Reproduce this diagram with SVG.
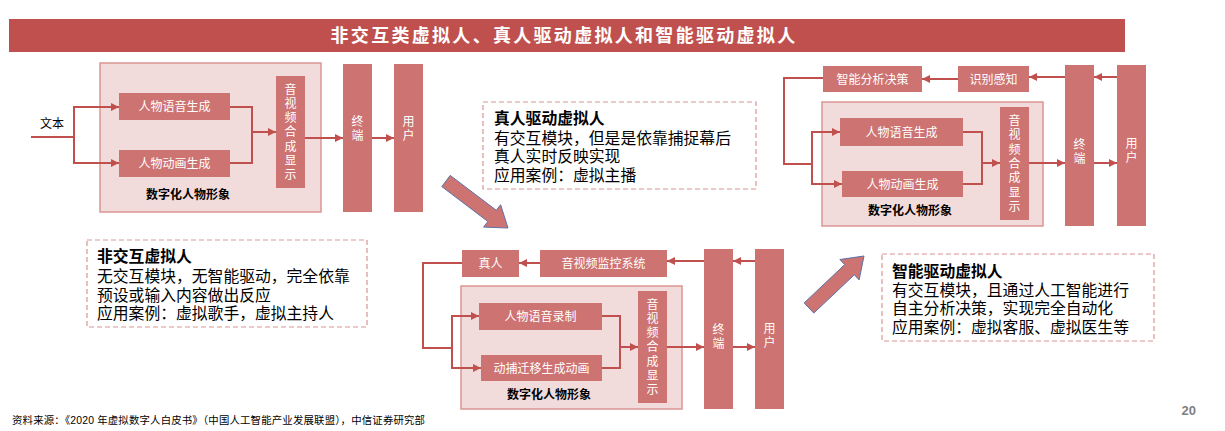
<svg xmlns="http://www.w3.org/2000/svg" width="1225" height="431" viewBox="0 0 1225 431">
<style>
text{font-family:"Liberation Sans","Noto Sans CJK SC",sans-serif}
.box{fill:#CD7371}
.cont{fill:#F2DCDB;stroke:#DA9694;stroke-width:1.5}
.wtc{fill:#fff;font-size:12px;text-anchor:middle}
.lbl{fill:#000;font-size:12px;font-weight:bold;text-anchor:middle}
.conn{stroke:#C0504D;stroke-width:2;fill:none}
.arr{stroke:#C0504D;stroke-width:2;fill:none;marker-end:url(#ah)}
.note{fill:#fff;stroke:#D99694;stroke-width:1.2;stroke-dasharray:5,3}
.nt{fill:#000;font-size:15.8px}
.ntb{fill:#000;font-size:15.8px;font-weight:bold}
.big{fill:#CD7371;stroke:#5B73A8;stroke-width:1}
</style>
<defs>
<marker id="ah" viewBox="0 0 10 10" refX="10" refY="5" markerWidth="9" markerHeight="8" markerUnits="userSpaceOnUse" orient="auto"><path d="M0,0 L10,5 L0,10 z" fill="#C0504D"/></marker>
</defs>
<rect width="1225" height="431" fill="#fff"/>
<g id="header">
<rect x="9" y="19" width="1116" height="33" fill="#C0504D"/>
<text x="564" y="42" fill="#fff" font-size="18" font-weight="bold" text-anchor="middle" letter-spacing="2.3">非交互类虚拟人、真人驱动虚拟人和智能驱动虚拟人</text>
</g>
<!-- Left diagram -->
<g id="left-container"><rect class="cont" x="100" y="63" width="221" height="149"/><text class="lbl" x="188" y="199">数字化人物形象</text></g>
<g id="left-voice"><rect class="box" x="119" y="93" width="111" height="27"/><text class="wtc" x="174.5" y="111">人物语音生成</text></g>
<g id="left-anim"><rect class="box" x="119" y="150" width="111" height="27"/><text class="wtc" x="174.5" y="168">人物动画生成</text></g>
<g id="left-synth"><rect class="box" x="276" y="76" width="29" height="112"/>
<text class="wtc" x="290.5"><tspan x="290.5" y="93.5">音</tspan><tspan x="290.5" y="107.8">视</tspan><tspan x="290.5" y="122.1">频</tspan><tspan x="290.5" y="136.4">合</tspan><tspan x="290.5" y="150.7">成</tspan><tspan x="290.5" y="165">显</tspan><tspan x="290.5" y="179.3">示</tspan></text></g>
<g id="left-terminal"><rect class="box" x="343" y="64" width="29" height="148"/><text class="wtc"><tspan x="357.5" y="126">终</tspan><tspan x="357.5" y="140">端</tspan></text></g>
<g id="left-user"><rect class="box" x="394" y="64" width="29" height="148"/><text class="wtc"><tspan x="408.5" y="126">用</tspan><tspan x="408.5" y="140">户</tspan></text></g>
<g id="left-input"><text x="52" y="128" font-size="12" text-anchor="middle" fill="#000">文本</text></g>
<!-- Middle diagram -->
<g id="mid-container"><rect class="cont" x="461" y="286" width="221" height="123"/><text class="lbl" x="549" y="399">数字化人物形象</text></g>
<g id="mid-real"><rect class="box" x="462" y="250" width="57" height="27"/><text class="wtc" x="490.5" y="268">真人</text></g>
<g id="mid-monitor"><rect class="box" x="540" y="250" width="127" height="27"/><text class="wtc" x="603.5" y="268">音视频监控系统</text></g>
<g id="mid-voice"><rect class="box" x="479" y="303" width="123" height="27"/><text class="wtc" x="540.5" y="321">人物语音录制</text></g>
<g id="mid-anim"><rect class="box" x="481" y="355" width="121" height="26"/><text class="wtc" x="541.5" y="372.5">动捕迁移生成动画</text></g>
<g id="mid-synth"><rect class="box" x="638" y="291" width="29" height="112"/>
<text class="wtc"><tspan x="652.5" y="308.5">音</tspan><tspan x="652.5" y="322.8">视</tspan><tspan x="652.5" y="337.1">频</tspan><tspan x="652.5" y="351.4">合</tspan><tspan x="652.5" y="365.7">成</tspan><tspan x="652.5" y="380">显</tspan><tspan x="652.5" y="394.3">示</tspan></text></g>
<g id="mid-terminal"><rect class="box" x="704" y="249" width="29" height="160"/><text class="wtc"><tspan x="718.5" y="334">终</tspan><tspan x="718.5" y="348">端</tspan></text></g>
<g id="mid-user"><rect class="box" x="755" y="249" width="29" height="160"/><text class="wtc"><tspan x="769.5" y="333">用</tspan><tspan x="769.5" y="347">户</tspan></text></g>
<!-- Right diagram -->
<g id="right-container"><rect class="cont" x="822" y="102" width="221" height="124"/><text class="lbl" x="910" y="215">数字化人物形象</text></g>
<g id="right-decision"><rect class="box" x="823" y="66" width="99" height="26"/><text class="wtc" x="872.5" y="83.5">智能分析决策</text></g>
<g id="right-perceive"><rect class="box" x="958" y="66" width="71" height="26"/><text class="wtc" x="993.5" y="83.5">识别感知</text></g>
<g id="right-voice"><rect class="box" x="840" y="118" width="123" height="28"/><text class="wtc" x="901.5" y="136.5">人物语音生成</text></g>
<g id="right-anim"><rect class="box" x="842" y="171" width="121" height="26"/><text class="wtc" x="902.5" y="188.5">人物动画生成</text></g>
<g id="right-synth"><rect class="box" x="1000" y="107" width="29" height="113"/>
<text class="wtc"><tspan x="1014.5" y="125">音</tspan><tspan x="1014.5" y="139.3">视</tspan><tspan x="1014.5" y="153.6">频</tspan><tspan x="1014.5" y="167.9">合</tspan><tspan x="1014.5" y="182.2">成</tspan><tspan x="1014.5" y="196.5">显</tspan><tspan x="1014.5" y="210.8">示</tspan></text></g>
<g id="right-terminal"><rect class="box" x="1065" y="65" width="29" height="161"/><text class="wtc"><tspan x="1079.5" y="149">终</tspan><tspan x="1079.5" y="163">端</tspan></text></g>
<g id="right-user"><rect class="box" x="1117" y="65" width="29" height="161"/><text class="wtc"><tspan x="1131.5" y="148">用</tspan><tspan x="1131.5" y="162">户</tspan></text></g>
<!-- Notes -->
<g id="note-noninteractive"><rect class="note" x="87" y="240" width="280" height="87"/>
<text class="ntb" x="97" y="262">非交互虚拟人</text>
<text class="nt" x="97" y="282">无交互模块，无智能驱动，完全依靠</text>
<text class="nt" x="97" y="301">预设或输入内容做出反应</text>
<text class="nt" x="97" y="319">应用案例：虚拟歌手，虚拟主持人</text></g>
<g id="note-human"><rect class="note" x="483" y="102" width="273" height="87"/>
<text class="ntb" x="494" y="124">真人驱动虚拟人</text>
<text class="nt" x="494" y="144">有交互模块，但是是依靠捕捉幕后</text>
<text class="nt" x="494" y="162">真人实时反映实现</text>
<text class="nt" x="494" y="181">应用案例：虚拟主播</text></g>
<g id="note-ai"><rect class="note" x="882" y="254" width="272" height="87"/>
<text class="ntb" x="892" y="277">智能驱动虚拟人</text>
<text class="nt" x="892" y="296">有交互模块，且通过人工智能进行</text>
<text class="nt" x="892" y="314">自主分析决策，实现完全自动化</text>
<text class="nt" x="892" y="333">应用案例：虚拟客服、虚拟医生等</text></g>
<g id="big-arrows">
<polygon class="big" points="450.2,175.4 496.3,210.3 500.6,204.7 508,228 483.6,227.1 487.9,221.5 441.8,186.6"/>
<polygon class="big" points="813.8,313.1 854.3,274.8 859.1,279.9 864,256 839.9,259.5 844.7,264.6 804.2,302.9"/>
</g>
<g id="connectors">
<path class="conn" d="M31,137 H74"/>
<path class="arr" d="M74,137 V107 H119"/>
<path class="arr" d="M74,137 V163 H119"/>
<path class="conn" d="M230,107 H252 V163 H230"/>
<path class="arr" d="M252,132 H276"/>
<path class="arr" d="M305,138 H343"/>
<path class="arr" d="M372,138 H394"/>

<path class="conn" d="M462,263 H423 V348 H452"/>
<path class="arr" d="M452,348 V316 H479"/>
<path class="arr" d="M452,348 V368 H481"/>
<path class="conn" d="M602,316 H620 V368 H602"/>
<path class="arr" d="M620,347 H638"/>
<path class="arr" d="M667,347 H704"/>
<path class="arr" d="M733,347 H755"/>
<path class="arr" d="M755,261 H733"/>
<path class="arr" d="M704,261 H667"/>
<path class="arr" d="M540,263 H519"/>

<path class="conn" d="M823,78 H784 V164 H812"/>
<path class="arr" d="M812,164 V132 H840"/>
<path class="arr" d="M812,164 V184 H842"/>
<path class="conn" d="M963,132 H982 V184 H963"/>
<path class="arr" d="M982,163 H1000"/>
<path class="arr" d="M1029,163 H1065"/>
<path class="arr" d="M1094,163 H1117"/>
<path class="arr" d="M1117,77 H1094"/>
<path class="arr" d="M1065,77 H1029"/>
<path class="arr" d="M958,79 H922"/>
</g>
<g id="footer">
<text x="12" y="424" font-size="10.4" fill="#000" textLength="413" lengthAdjust="spacing">资料来源：《2020 年虚拟数字人白皮书》（中国人工智能产业发展联盟），中信证券研究部</text>
<text x="1196" y="415" font-size="13" font-weight="bold" fill="#7F7F7F" text-anchor="end">20</text>
</g>
</svg>
